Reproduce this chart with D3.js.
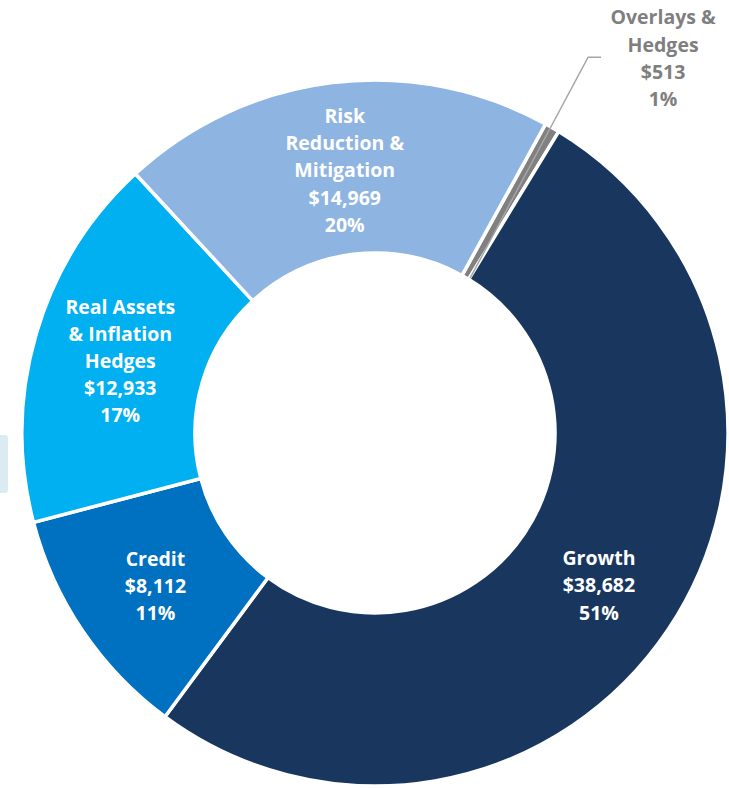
<!DOCTYPE html>
<html>
<head>
<meta charset="utf-8">
<script src="https://cdn.jsdelivr.net/npm/d3@7"></script>
<style>
    body { margin: 0; background: #fff; }
    text { font-family: 'Open Sans', 'Noto Sans', sans-serif; font-weight: 700; }
</style>
</head>
<body>
<div id="chart"></div>
<script>
// slice order runs clockwise from the top-right
const categories = ['Overlays & Hedges', 'Growth', 'Credit', 'Real Assets & Inflation Hedges', 'Risk Reduction & Mitigation']
const values = [513, 38682, 8112, 12933, 14969]
const labelLines = [
    ['Overlays &', 'Hedges'],
    ['Growth'],
    ['Credit'],
    ['Real Assets', '& Inflation', 'Hedges'],
    ['Risk', 'Reduction &', 'Mitigation']
]
const colors = ['#808080', '#19375e', '#0070c0', '#00b0f0', '#8eb4e2']

const W = 729, H = 788
const cx = 375, cy = 433
const rOuter = 353, rInner = 180
const startDeg = 28.9

const translate = (x, y) => 'translate(' + x + ', ' + y + ')'

const svg = d3.select('#chart')
    .append('svg')
    .attr('width', W)
    .attr('height', H)

// small light tab at the left edge
svg.append('rect')
    .attr('x', -6).attr('y', 435)
    .attr('width', 14).attr('height', 58)
    .attr('rx', 3)
    .attr('fill', '#dbebf2')

const g = svg.append('g').attr('transform', translate(cx, cy))

const data = categories.map((c, i) => ({ name: c, value: values[i], lines: labelLines[i], color: colors[i] }))
const total = d3.sum(values)

const start = startDeg * Math.PI / 180
const pie = d3.pie()
    .sort(null)
    .value(d => d.value)
    .startAngle(start)
    .endAngle(start + 2 * Math.PI)

const arc = d3.arc().innerRadius(rInner).outerRadius(rOuter)
const labelR = (rInner + rOuter) / 2 + 1
const midArc = d3.arc().innerRadius(labelR).outerRadius(labelR)

const arcs = pie(data)

g.selectAll('path.slice')
    .data(arcs)
    .enter()
    .append('path')
    .attr('class', 'slice')
    .attr('d', arc)
    .attr('fill', d => d.data.color)
    .attr('stroke', '#fff')
    .attr('stroke-width', 3.5)
    .attr('stroke-linejoin', 'miter')

const fmtMoney = v => '$' + d3.format(',')(v)
const fmtPct = v => Math.round(v / total * 100) + '%'
const lineH = 27.2
const fontSize = 19.5

// inside labels
arcs.slice(1).forEach(a => {
    const [x, y] = midArc.centroid(a)
    const lines = a.data.lines.concat([fmtMoney(a.data.value), fmtPct(a.data.value)])
    const t = g.append('text')
        .attr('text-anchor', 'middle')
        .attr('fill', '#fff')
        .attr('font-size', fontSize)
    lines.forEach((l, i) => {
        t.append('tspan')
            .attr('x', x + 2)
            .attr('y', y + (i - (lines.length - 1) / 2) * lineH + 10)
            .text(l)
    })
})

// outside label for the thin slice, with a leader line
const small = arcs[0]
const mid = (small.startAngle + small.endAngle) / 2
const pt = (ang, r) => [r * Math.sin(ang), -r * Math.cos(ang)]
const p0 = pt(mid + 0.025, rInner + 2)
const p1 = pt(mid - 0.01, 432)
const p2 = [p1[0] + 13, p1[1]]
g.append('path')
    .attr('d', d3.line()([p0, p1, p2]))
    .attr('fill', 'none')
    .attr('stroke', '#a6a6a6')
    .attr('stroke-width', 1.5)

const outLines = small.data.lines.concat([fmtMoney(small.data.value), fmtPct(small.data.value)])
const ot = g.append('text')
    .attr('text-anchor', 'middle')
    .attr('fill', '#7f7f7f')
    .attr('font-size', fontSize)
outLines.forEach((l, i) => {
    ot.append('tspan')
        .attr('x', p2[0] + 62)
        .attr('y', p2[1] + (i - (outLines.length - 1) / 2) * lineH + 8)
        .text(l)
})
</script>
</body>
</html>
